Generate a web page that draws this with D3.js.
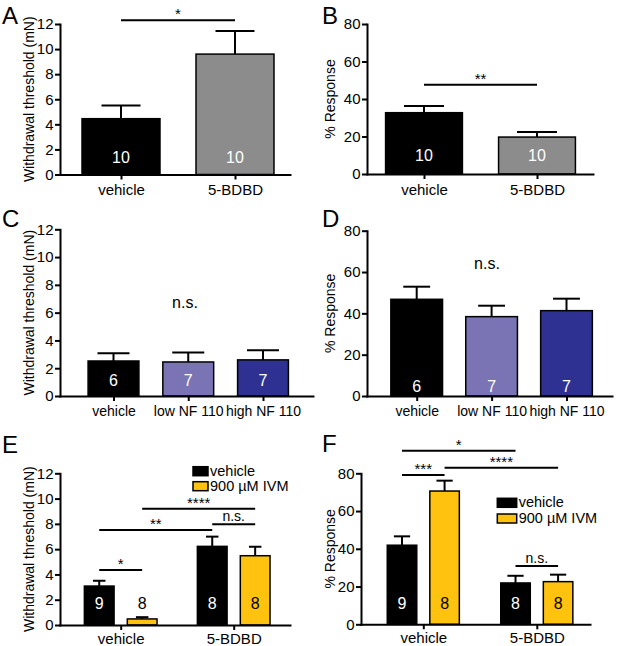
<!DOCTYPE html>
<html lang="en">
<head>
  <meta charset="UTF-8">
  <title>Withdrawal threshold and % response</title>
  <style>
    body { margin: 0; background: #fff; }
    svg { display: block; font-family: "Liberation Sans", Arial, sans-serif; }
    .axis path, .axis line { stroke: #000; stroke-width: 2px; }
    .axis path { stroke-linecap: square; }
    .axis text { font-size: 15px; fill: #000; }
  </style>
</head>
<body>
  <svg width="617" height="646"></svg>
  <script src="https://cdnjs.cloudflare.com/ajax/libs/d3/7.8.5/d3.min.js"></script>
  <script>
    // ---- data ----
    var twoGroups = ['vehicle', '5-BDBD'];
    var threeGroups = ['vehicle', 'low NF 110', 'high NF 110'];
    var ivmSeries = ['vehicle', '900 µM IVM'];

    var mNTicks = [0, 2, 4, 6, 8, 10, 12];
    var pctTicks = [0, 20, 40, 60, 80];

    // A: withdrawal threshold, vehicle vs 5-BDBD
    var aMean = [4.45, 9.6];
    var aSem = [1.05, 1.85];
    var aN = [10, 10];
    // B: % response, vehicle vs 5-BDBD
    var bMean = [32.7, 19.7];
    var bSem = [3.6, 2.7];
    var bN = [10, 10];
    // C: withdrawal threshold, NF 110
    var cMean = [2.52, 2.45, 2.6];
    var cSem = [0.55, 0.69, 0.69];
    var cN = [6, 7, 7];
    // D: % response, NF 110
    var dMean = [46.8, 38.4, 41.3];
    var dSem = [6.1, 5.3, 5.8];
    var dN = [6, 7, 7];
    // E: withdrawal threshold, IVM (rows = series, cols = groups)
    var eMean = [[3.08, 6.22], [0.48, 5.48]];
    var eSem = [[0.42, 0.77], [0.14, 0.71]];
    var eN = [[9, 8], [8, 8]];
    // F: % response, IVM
    var fMean = [[41.9, 21.9], [70.6, 22.6]];
    var fSem = [[4.7, 3.8], [5.5, 3.7]];
    var fN = [[9, 8], [8, 8]];

    // significance brackets: bar indices (group-major), height in data units
    var aSig = [{from: 0, to: 1, y: 12.3, label: '*'}];
    var bSig = [{from: 0, to: 1, y: 47.6, label: '**'}];
    var eSig = [
      {from: 0, to: 1, y: 4.35, label: '*'},
      {from: 0, to: 2, y: 7.52, label: '**'},
      {from: 2, to: 3, y: 7.97, label: 'n.s.'},
      {from: 1, to: 3, y: 9.2, label: '****'}
    ];
    var fSig = [
      {from: 0, to: 2, y: 92, label: '*'},
      {from: 0, to: 1, y: 79.1, label: '***'},
      {from: 1, to: 3, y: 83, label: '****'},
      {from: 2, to: 3, y: 30.9, label: 'n.s.'}
    ];

    var abColors = ['#000000', '#8c8c8c'];
    var cdColors = ['#000000', '#7a74b4', '#2e3192'];
    var ivmColors = ['#000000', '#ffc20e'];
    var ivmText = ['#ffffff', '#000000'];

    var svg = d3.select('svg');
    svg.append('rect').attr('width', 617).attr('height', 646).attr('fill', '#fff');

    // point scale whose first/last points land on c0/c1 inside range r0..r1
    function pointScale(cats, r0, r1, c0, c1) {
      var n = cats.length;
      var step = (c1 - c0) / (n - 1);
      var pad = ((r1 - r0) / step - (n - 1)) / 2;
      var align = (c0 - r0) / ((r1 - r0) - step * (n - 1));
      return d3.scalePoint().domain(cats).range([r0, r1]).padding(pad).align(align);
    }

    function simpleBars(cats, means, sems, ns, colors) {
      return cats.map(function(c, i) {
        return {group: c, series: null, mean: means[i], sem: sems[i], n: ns[i],
                fill: colors[i], text: '#ffffff'};
      });
    }

    function groupedBars(groups, series, means, sems, ns) {
      var out = [];
      groups.forEach(function(g, gi) {
        series.forEach(function(s, si) {
          out.push({group: g, series: s, mean: means[si][gi], sem: sems[si][gi],
                    n: ns[si][gi], fill: ivmColors[si], text: ivmText[si]});
        });
      });
      return out;
    }

    function drawPanel(p) {
      var g = svg.append('g');
      var y = d3.scaleLinear().domain([0, p.ticks[p.ticks.length - 1]]).range([p.y0, p.y1]);
      var x = pointScale(p.cats, p.xr[0], p.xr[1], p.c0, p.c1);
      var step = x.step();
      var bw = step * p.barFrac;
      var xs = p.series
        ? d3.scalePoint().domain(p.series).range([-step * p.offFrac, step * p.offFrac])
        : function() { return 0; };
      var cx = function(d) { return x(d.group) + (d.series ? xs(d.series) : 0); };
      var cap = bw * p.capFrac;

      // error bars (upper only)
      var err = g.append('g').attr('stroke', '#000').attr('stroke-width', 2);
      err.selectAll('line.v').data(p.bars).join('line')
        .attr('x1', cx).attr('x2', cx)
        .attr('y1', function(d) { return y(d.mean); })
        .attr('y2', function(d) { return y(d.mean + d.sem); });
      err.selectAll('line.c').data(p.bars).join('line')
        .attr('x1', function(d) { return cx(d) - cap / 2; })
        .attr('x2', function(d) { return cx(d) + cap / 2; })
        .attr('y1', function(d) { return y(d.mean + d.sem); })
        .attr('y2', function(d) { return y(d.mean + d.sem); });

      // bars
      g.append('g').selectAll('rect').data(p.bars).join('rect')
        .attr('x', function(d) { return cx(d) - bw / 2; })
        .attr('y', function(d) { return y(d.mean); })
        .attr('width', bw)
        .attr('height', function(d) { return y(0) - y(d.mean); })
        .attr('fill', function(d) { return d.fill; })
        .attr('stroke', '#000')
        .attr('stroke-width', 1.5);

      // n per bar
      g.append('g').selectAll('text').data(p.bars).join('text')
        .attr('x', cx)
        .attr('y', p.y0 - p.nOffset)
        .attr('text-anchor', 'middle')
        .attr('font-size', 16)
        .attr('fill', function(d) { return d.text; })
        .text(function(d) { return d.n; });

      // axes
      var xAxis = g.append('g').attr('class', 'axis')
        .attr('transform', 'translate(0,' + p.y0 + ')')
        .call(d3.axisBottom(x).tickSize(5).tickSizeOuter(0).tickPadding(p.xPad || 5));
      if (p.xFont) xAxis.selectAll('text').style('font-size', p.xFont + 'px');
      g.append('g').attr('class', 'axis')
        .attr('transform', 'translate(' + p.xr[0] + ',0)')
        .call(d3.axisLeft(y).tickValues(p.ticks).tickSize(5).tickSizeOuter(0).tickPadding(1.5));

      // y title
      g.append('text')
        .attr('transform', 'translate(' + p.titleX + ',' + (p.y0 + p.y1) / 2 + ') rotate(-90)')
        .attr('text-anchor', 'middle')
        .attr('font-size', 14)
        .text(p.title);

      // panel letter
      g.append('text')
        .attr('x', p.letterPos[0]).attr('y', p.letterPos[1])
        .attr('font-size', 24)
        .text(p.letter);

      // significance brackets
      (p.sig || []).forEach(function(s) {
        var xa = cx(p.bars[s.from]), xb = cx(p.bars[s.to]), ys = y(s.y);
        g.append('line')
          .attr('x1', xa).attr('x2', xb).attr('y1', ys).attr('y2', ys)
          .attr('stroke', '#000').attr('stroke-width', 2);
        var ns = s.label === 'n.s.';
        g.append('text')
          .attr('x', (xa + xb) / 2).attr('y', ys - (ns ? 3 : 1))
          .attr('text-anchor', 'middle')
          .attr('font-size', ns ? 14 : 15)
          .text(s.label);
      });

      if (p.ns) {
        g.append('text')
          .attr('x', p.ns[0]).attr('y', y(p.ns[1]))
          .attr('text-anchor', 'middle')
          .attr('font-size', 16)
          .text('n.s.');
      }

      // legend
      if (p.legend) {
        var lg = g.append('g');
        p.series.forEach(function(s, i) {
          var top = p.legend.y + i * p.legend.row;
          lg.append('rect')
            .attr('x', p.legend.x).attr('y', top)
            .attr('width', p.legend.w).attr('height', 9)
            .attr('fill', ivmColors[i]).attr('stroke', '#000').attr('stroke-width', 1.5);
          lg.append('text')
            .attr('x', p.legend.x + p.legend.w + 2).attr('y', top + 9)
            .attr('font-size', 14.5)
            .text(s);
        });
      }
    }

    drawPanel({
      letter: 'A', letterPos: [2, 24], title: 'Withdrawal threshold (mN)', titleX: 34,
      cats: twoGroups, bars: simpleBars(twoGroups, aMean, aSem, aN, abColors),
      ticks: mNTicks, xr: [60, 290], c0: 121, c1: 235, y0: 174.5, y1: 24,
      barFrac: 0.684, capFrac: 0.5, nOffset: 12, sig: aSig
    });
    drawPanel({
      letter: 'B', letterPos: [322, 24], title: '% Response', titleX: 335,
      cats: twoGroups, bars: simpleBars(twoGroups, bMean, bSem, bN, abColors),
      ticks: pctTicks, xr: [367, 593], c0: 424, c1: 537, y0: 174, y1: 24,
      barFrac: 0.68, capFrac: 0.52, nOffset: 13, sig: bSig
    });
    drawPanel({
      letter: 'C', letterPos: [2, 227], title: 'Withdrawal threshold (mN)', titleX: 34,
      cats: threeGroups, bars: simpleBars(threeGroups, cMean, cSem, cN, cdColors),
      ticks: mNTicks, xr: [60, 313], c0: 113.5, c1: 263, y0: 396, y1: 229.3,
      barFrac: 0.68, capFrac: 0.63, nOffset: 10.5, ns: [185, 6.3], xFont: 14
    });
    drawPanel({
      letter: 'D', letterPos: [322, 227], title: '% Response', titleX: 335,
      cats: threeGroups, bars: simpleBars(threeGroups, dMean, dSem, dN, cdColors),
      ticks: pctTicks, xr: [367, 612], c0: 416.7, c1: 566.5, y0: 396, y1: 230.7,
      barFrac: 0.69, capFrac: 0.52, nOffset: 4, ns: [487, 61.5], xFont: 14
    });
    drawPanel({
      letter: 'E', letterPos: [2, 453], title: 'Withdrawal threshold (mN)', titleX: 34,
      cats: twoGroups, series: ivmSeries,
      bars: groupedBars(twoGroups, ivmSeries, eMean, eSem, eN),
      ticks: mNTicks, xr: [60, 290], c0: 120.7, c1: 233.7, y0: 625, y1: 473.3,
      barFrac: 0.263, offFrac: 0.19, capFrac: 0.42, nOffset: 16, sig: eSig, xPad: 3,
      legend: {x: 193, y: 466.7, row: 15, w: 15}
    });
    drawPanel({
      letter: 'F', letterPos: [322, 452], title: '% Response', titleX: 335,
      cats: twoGroups, series: ivmSeries,
      bars: groupedBars(twoGroups, ivmSeries, fMean, fSem, fN),
      ticks: pctTicks, xr: [361, 590], c0: 423.3, c1: 536.8, y0: 624.3, y1: 473.3,
      barFrac: 0.26, offFrac: 0.1875, capFrac: 0.55, nOffset: 15.6, sig: fSig, xPad: 3,
      legend: {x: 497.3, y: 498.3, row: 15.7, w: 19.4}
    });
  </script>
</body>
</html>
